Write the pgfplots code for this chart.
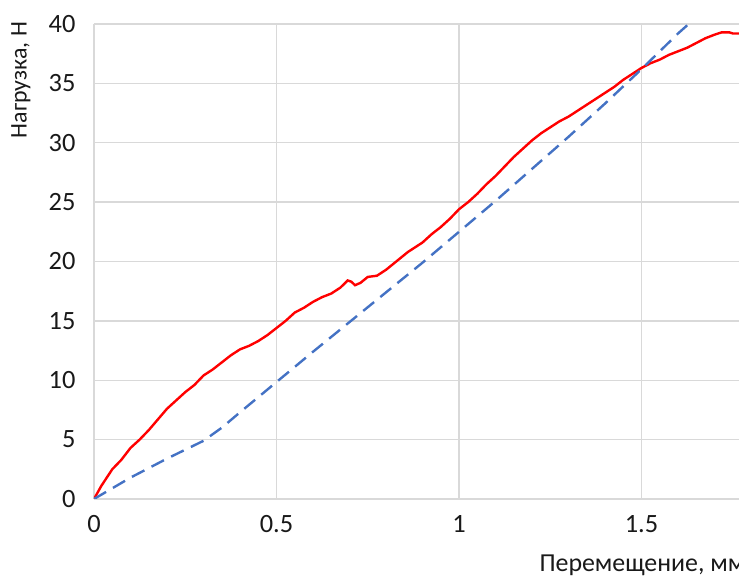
\documentclass[border=0pt]{standalone}
\usepackage{pgfplots}
\pgfplotsset{compat=1.18}
\usepackage{fontspec}
\setmainfont{Carlito}
\definecolor{gridgray}{HTML}{D9D9D9}
\definecolor{loadred}{HTML}{FF0000}
\definecolor{fitblue}{HTML}{4472C4}

\begin{document}
\begin{tikzpicture}
\begin{axis}[
    name=main,
    scale only axis,
    width=645bp, height=475bp,
    xmin=0, xmax=1.767,
    ymin=0, ymax=40,
    xtick={0,0.5,1,1.5},
    xticklabels={0,0.5,1,1.5},
    ytick={0,5,...,40},
    yticklabels={0,5,10,15,20,25,30,35,40},
    tick label style={font=\fontsize{26.5}{30}\selectfont, text=black!90},
    xticklabel style={yshift=-13bp},
    yticklabel style={xshift=-15bp},
    major tick length=0pt,
    axis line style={draw=none},
    grid=major,
    grid style={gridgray, line width=1.3bp},
]
\addplot[color=loadred, line width=2.4bp] coordinates {
    (0,0) (0.02,1.1) (0.05,2.5) (0.075,3.3) (0.1,4.3) (0.125,5.0)
    (0.15,5.8) (0.175,6.7) (0.2,7.6) (0.225,8.3) (0.25,9.0) (0.275,9.6)
    (0.3,10.4) (0.325,10.9) (0.35,11.5) (0.375,12.1) (0.4,12.6) (0.425,12.9)
    (0.45,13.3) (0.475,13.8) (0.5,14.4) (0.525,15.0) (0.55,15.7) (0.575,16.1)
    (0.6,16.6) (0.625,17.0) (0.65,17.3) (0.675,17.8) (0.695,18.4) (0.705,18.3)
    (0.715,18.0) (0.73,18.2) (0.75,18.7) (0.775,18.8) (0.8,19.3) (0.82,19.8)
    (0.84,20.3) (0.86,20.8) (0.88,21.2) (0.9,21.6) (0.925,22.3) (0.95,22.9)
    (0.975,23.6) (1.0,24.4) (1.025,25.0) (1.05,25.7) (1.075,26.5) (1.1,27.2)
    (1.125,28.0) (1.15,28.8) (1.175,29.5) (1.2,30.2) (1.225,30.8) (1.25,31.3)
    (1.275,31.8) (1.3,32.2) (1.325,32.7) (1.35,33.2) (1.375,33.7) (1.4,34.2)
    (1.425,34.7) (1.45,35.3) (1.475,35.8) (1.5,36.3) (1.525,36.7) (1.55,37.0)
    (1.575,37.4) (1.6,37.7) (1.625,38.0) (1.65,38.4) (1.675,38.8) (1.7,39.1)
    (1.72,39.3) (1.74,39.3) (1.75,39.2) (1.767,39.2)
};
\addplot[color=fitblue, line width=2.4bp, dash pattern=on 14bp off 8bp] coordinates {
    (0,0) (0.1,1.8) (0.2,3.4) (0.3,4.9) (0.35,6.0) (0.4,7.3) (0.5,9.85)
    (0.6,12.4) (0.7,14.9) (0.8,17.4) (0.9,19.9) (1.0,22.5) (1.1,25.1)
    (1.2,27.8) (1.3,30.5) (1.4,33.3) (1.5,36.2) (1.6,39.2) (1.64,40.3)
};
\end{axis}
\node[rotate=90, anchor=center, font=\fontsize{24}{28}\selectfont, text=black!90]
    at ([xshift=-73bp, yshift=-56bp]main.north west) {Нагрузка, Н};
\node[anchor=base west, font=\fontsize{26}{30}\selectfont, text=black!90]
    at ([xshift=442bp, yshift=-73bp]main.south west) {Перемещение, мм};
\pgfresetboundingbox
\path ([xshift=-94bp, yshift=-80bp]main.south west) rectangle ([yshift=24bp]main.north east);
\end{tikzpicture}
\end{document}
